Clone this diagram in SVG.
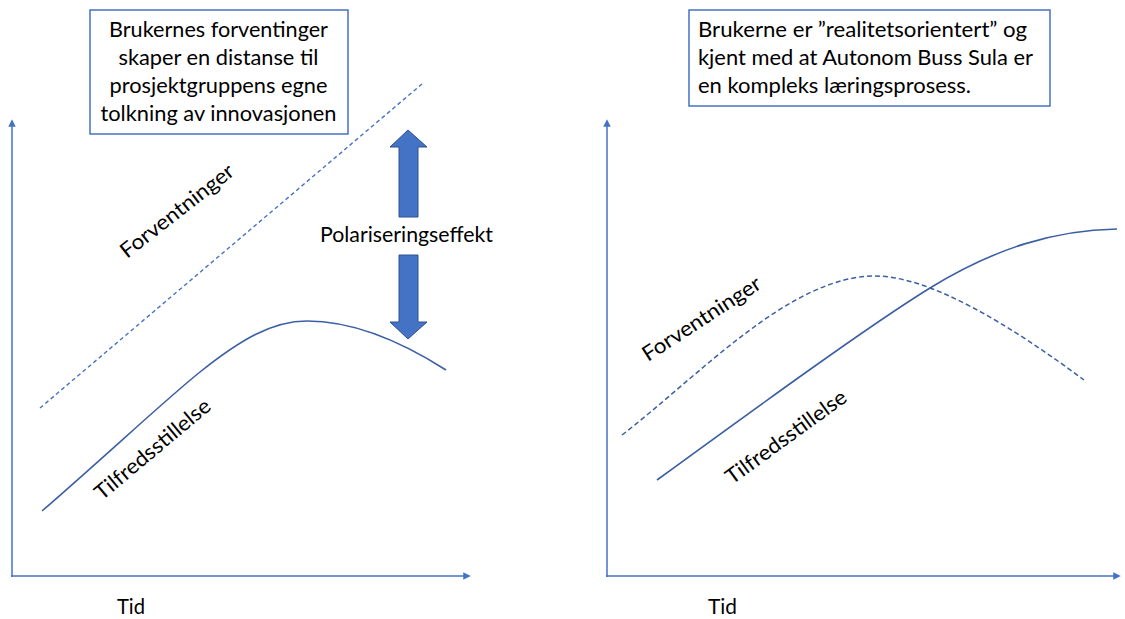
<svg xmlns="http://www.w3.org/2000/svg" width="1125" height="619" viewBox="0 0 1125 619">
  <defs>
    <style>
      .txt { font-family: Lato, "Liberation Sans", "DejaVu Sans", sans-serif; font-size: 21px; fill: #000; }
      .box { fill: #fff; stroke: #4472C4; stroke-width: 1.5; }
      .axis { fill: none; stroke: #4472C4; stroke-width: 1.5; }
      .solid { fill: none; stroke: #3C5FA3; stroke-width: 1.6; }
      .dash { fill: none; stroke: #4472C4; stroke-width: 1.4; stroke-dasharray: 4 3; }
      .dash2 { fill: none; stroke: #3C5FA3; stroke-width: 1.5; stroke-dasharray: 5 3; }
      .block { fill: #4472C4; stroke: #2F528F; stroke-width: 1; }
    </style>
    <marker id="tip" viewBox="0 0 10 10" refX="1" refY="5" markerWidth="5" markerHeight="5" orient="auto" markerUnits="strokeWidth">
      <path d="M0,0 L10,5 L0,10 Z" fill="#4472C4"/>
    </marker>
  </defs>
  <rect width="1125" height="619" fill="#fff"/>

  <!-- axes and curves -->
  <g id="connectors">
    <!-- left chart axes -->
    <line class="axis" x1="12" y1="577" x2="12" y2="126" marker-end="url(#tip)"/>
    <line class="axis" x1="11" y1="576" x2="464" y2="576" marker-end="url(#tip)"/>
    <!-- left chart: expectations (dashed) and satisfaction (solid) -->
    <line class="dash" x1="40" y1="408" x2="422" y2="84"/>
    <path class="solid" d="M42,511 C110,452 165,400 200,372 C240,340 272,321 307,321 C360,321 410,347 446,370"/>

    <!-- right chart axes -->
    <line class="axis" x1="607" y1="577" x2="607" y2="126" marker-end="url(#tip)"/>
    <line class="axis" x1="606" y1="576" x2="1114" y2="576" marker-end="url(#tip)"/>
    <!-- right chart curves -->
    <path class="dash2" d="M622,435 C700,375 790,276 875,276 C930,276 1010,325 1084,380"/>
    <path class="solid" d="M657,480 C760,405 870,325 930,288 C995,248 1055,230 1117,229"/>
  </g>

  <!-- left text box -->
  <g id="box-left">
    <rect class="box" x="90" y="10" width="258" height="124"/>
    <text class="txt" text-anchor="middle" x="218.5" y="37" textLength="219" lengthAdjust="spacingAndGlyphs">Brukernes forventinger</text>
    <text class="txt" text-anchor="middle" x="218.5" y="65" textLength="200" lengthAdjust="spacingAndGlyphs">skaper en distanse til</text>
    <text class="txt" text-anchor="middle" x="218.5" y="93" textLength="218" lengthAdjust="spacingAndGlyphs">prosjektgruppens egne</text>
    <text class="txt" text-anchor="middle" x="218.5" y="121" textLength="236" lengthAdjust="spacingAndGlyphs">tolkning av innovasjonen</text>
  </g>

  <!-- polarisation arrows -->
  <g id="polarisering">
    <path class="block" d="M408,130 L427,147 L418,147 L418,217 L399,217 L399,147 L390,147 Z"/>
    <path class="block" d="M408,339 L427,322 L418,322 L418,255 L399,255 L399,322 L390,322 Z"/>
    <text class="txt" x="320" y="242" textLength="173" lengthAdjust="spacingAndGlyphs">Polariseringseffekt</text>
  </g>

  <!-- left chart labels -->
  <g id="labels-left">
    <text class="txt" transform="translate(127,259) rotate(-38)" textLength="138" lengthAdjust="spacingAndGlyphs">Forventninger</text>
    <text class="txt" transform="translate(102,501) rotate(-40)" textLength="144" lengthAdjust="spacingAndGlyphs">Tilfredsstillelse</text>
    <text class="txt" x="117" y="614" textLength="28" lengthAdjust="spacingAndGlyphs">Tid</text>
  </g>

  <!-- right text box -->
  <g id="box-right">
    <rect class="box" x="689" y="10" width="361" height="96"/>
    <text class="txt" x="698" y="37" textLength="329" lengthAdjust="spacingAndGlyphs">Brukerne er ”realitetsorientert” og</text>
    <text class="txt" x="698" y="65" textLength="335" lengthAdjust="spacingAndGlyphs">kjent med at Autonom Buss Sula er</text>
    <text class="txt" x="698" y="93" textLength="273" lengthAdjust="spacingAndGlyphs">en kompleks læringsprosess.</text>
  </g>

  <!-- right chart labels -->
  <g id="labels-right">
    <text class="txt" transform="translate(648,362) rotate(-33)" textLength="137" lengthAdjust="spacingAndGlyphs">Forventninger</text>
    <text class="txt" transform="translate(732,485) rotate(-36)" textLength="144" lengthAdjust="spacingAndGlyphs">Tilfredsstillelse</text>
    <text class="txt" x="708" y="614" textLength="29" lengthAdjust="spacingAndGlyphs">Tid</text>
  </g>
</svg>
